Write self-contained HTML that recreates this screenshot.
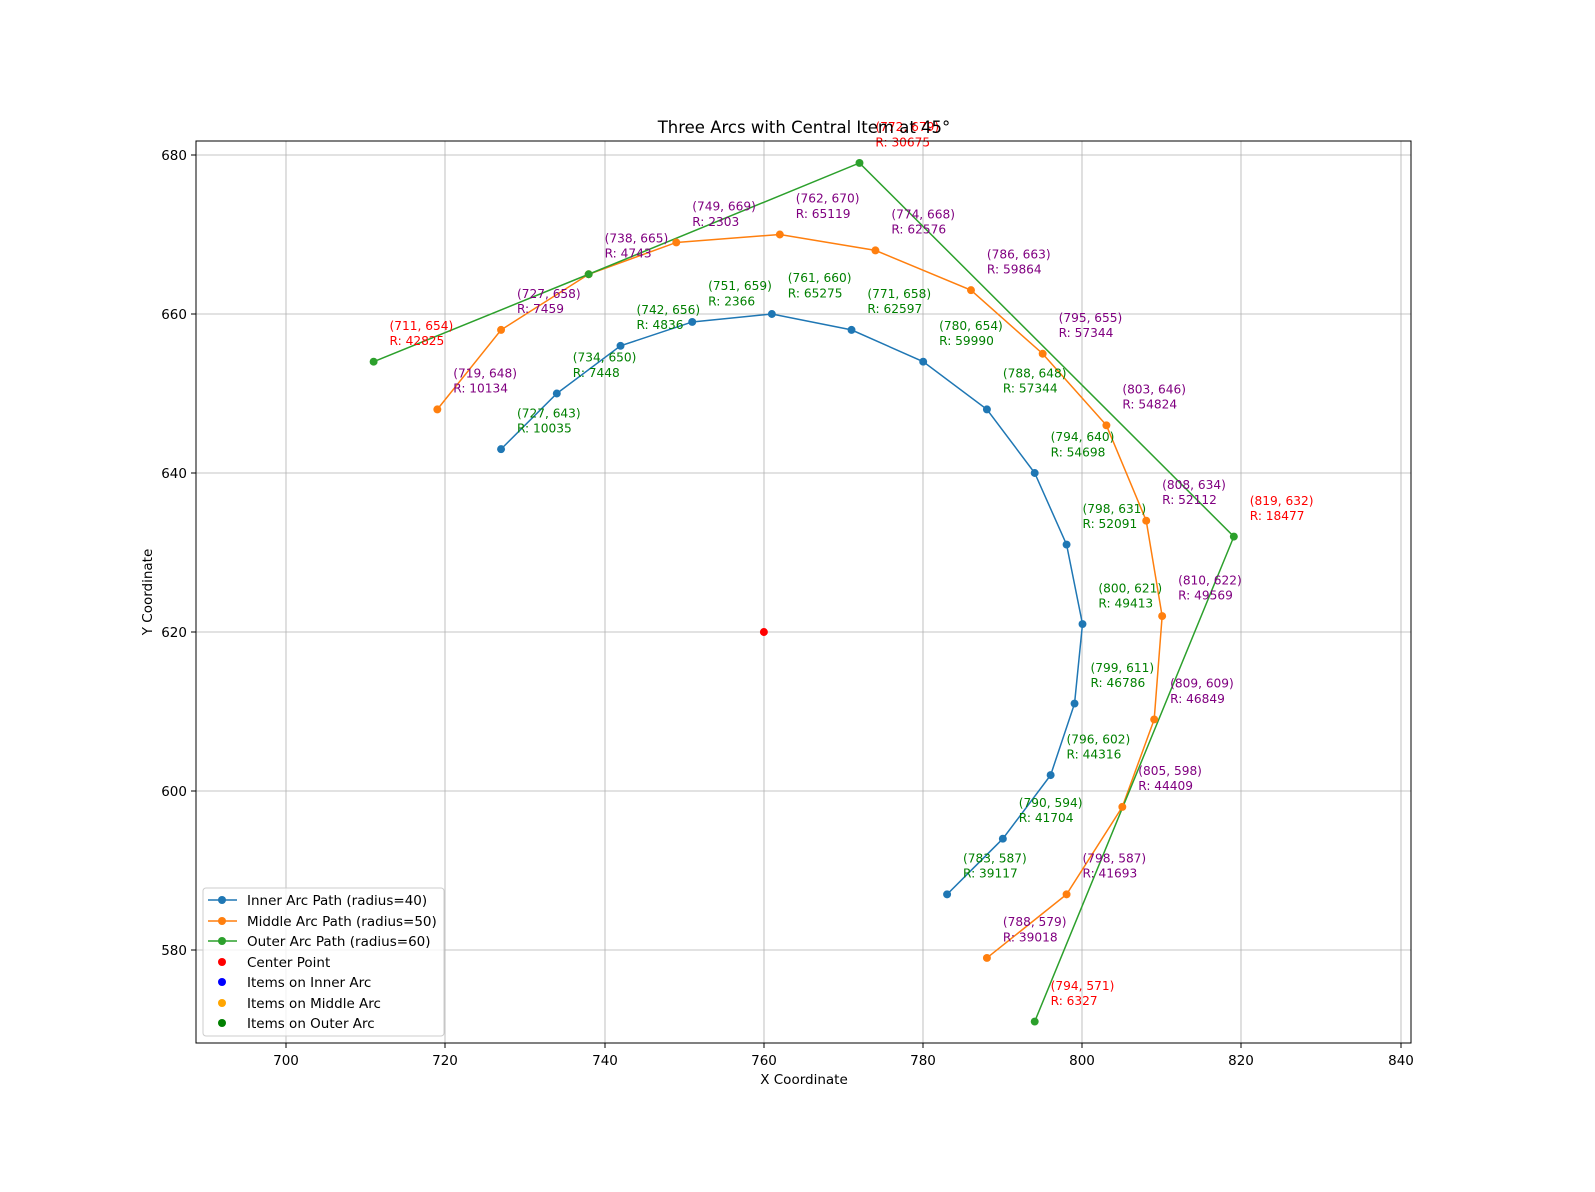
<!DOCTYPE html>
<html><head><meta charset="utf-8"><style>
html,body{margin:0;padding:0;background:#fff;overflow:hidden;width:1595px;height:1192px}
svg{display:block;font-family:"DejaVu Sans","Liberation Sans",sans-serif}
</style></head><body>
<svg width="1595" height="1192" viewBox="0 0 1595 1192" xmlns="http://www.w3.org/2000/svg">
<rect width="1595" height="1192" fill="#fff"/>
<g stroke="#b0b0b0" stroke-width="0.8">
<line x1="286" y1="141" x2="286" y2="1043"/><line x1="445" y1="141" x2="445" y2="1043"/><line x1="605" y1="141" x2="605" y2="1043"/><line x1="764" y1="141" x2="764" y2="1043"/><line x1="923" y1="141" x2="923" y2="1043"/><line x1="1082" y1="141" x2="1082" y2="1043"/><line x1="1241" y1="141" x2="1241" y2="1043"/><line x1="1401" y1="141" x2="1401" y2="1043"/>
<line x1="196" y1="155" x2="1411" y2="155"/><line x1="196" y1="314" x2="1411" y2="314"/><line x1="196" y1="473" x2="1411" y2="473"/><line x1="196" y1="632" x2="1411" y2="632"/><line x1="196" y1="791" x2="1411" y2="791"/><line x1="196" y1="950" x2="1411" y2="950"/>
</g>
<g transform="translate(-5289.5,5561) scale(7.965,7.95)">
<polyline fill="none" stroke="#1f77b4" stroke-width="1.5" vector-effect="non-scaling-stroke" points="727,-643 734,-650 742,-656 751,-659 761,-660 771,-658 780,-654 788,-648 794,-640 798,-631 800,-621 799,-611 796,-602 790,-594 783,-587"/>
<polyline fill="none" stroke="#ff7f0e" stroke-width="1.5" vector-effect="non-scaling-stroke" points="719,-648 727,-658 738,-665 749,-669 762,-670 774,-668 786,-663 795,-655 803,-646 808,-634 810,-622 809,-609 805,-598 798,-587 788,-579"/>
<polyline fill="none" stroke="#2ca02c" stroke-width="1.5" vector-effect="non-scaling-stroke" points="711,-654 738,-665 772,-679 819,-632 794,-571"/>
<g fill="#1f77b4"><circle cx="727" cy="-643" r="0.5"/><circle cx="734" cy="-650" r="0.5"/><circle cx="742" cy="-656" r="0.5"/><circle cx="751" cy="-659" r="0.5"/><circle cx="761" cy="-660" r="0.5"/><circle cx="771" cy="-658" r="0.5"/><circle cx="780" cy="-654" r="0.5"/><circle cx="788" cy="-648" r="0.5"/><circle cx="794" cy="-640" r="0.5"/><circle cx="798" cy="-631" r="0.5"/><circle cx="800" cy="-621" r="0.5"/><circle cx="799" cy="-611" r="0.5"/><circle cx="796" cy="-602" r="0.5"/><circle cx="790" cy="-594" r="0.5"/><circle cx="783" cy="-587" r="0.5"/></g>
<g fill="#ff7f0e"><circle cx="719" cy="-648" r="0.5"/><circle cx="727" cy="-658" r="0.5"/><circle cx="738" cy="-665" r="0.5"/><circle cx="749" cy="-669" r="0.5"/><circle cx="762" cy="-670" r="0.5"/><circle cx="774" cy="-668" r="0.5"/><circle cx="786" cy="-663" r="0.5"/><circle cx="795" cy="-655" r="0.5"/><circle cx="803" cy="-646" r="0.5"/><circle cx="808" cy="-634" r="0.5"/><circle cx="810" cy="-622" r="0.5"/><circle cx="809" cy="-609" r="0.5"/><circle cx="805" cy="-598" r="0.5"/><circle cx="798" cy="-587" r="0.5"/><circle cx="788" cy="-579" r="0.5"/></g>
<g fill="#2ca02c"><circle cx="711" cy="-654" r="0.5"/><circle cx="738" cy="-665" r="0.5"/><circle cx="772" cy="-679" r="0.5"/><circle cx="819" cy="-632" r="0.5"/><circle cx="794" cy="-571" r="0.5"/></g>
<circle cx="760" cy="-620" r="0.5" fill="red"/>
<g font-size="1.53" fill="green">
<text x="729" y="-647">(727, 643)</text><text x="729" y="-645.1">R: 10035</text>
<text x="736" y="-654">(734, 650)</text><text x="736" y="-652.1">R: 7448</text>
<text x="744" y="-660">(742, 656)</text><text x="744" y="-658.1">R: 4836</text>
<text x="753" y="-663">(751, 659)</text><text x="753" y="-661.1">R: 2366</text>
<text x="763" y="-664">(761, 660)</text><text x="763" y="-662.1">R: 65275</text>
<text x="773" y="-662">(771, 658)</text><text x="773" y="-660.1">R: 62597</text>
<text x="782" y="-658">(780, 654)</text><text x="782" y="-656.1">R: 59990</text>
<text x="790" y="-652">(788, 648)</text><text x="790" y="-650.1">R: 57344</text>
<text x="796" y="-644">(794, 640)</text><text x="796" y="-642.1">R: 54698</text>
<text x="800" y="-635">(798, 631)</text><text x="800" y="-633.1">R: 52091</text>
<text x="802" y="-625">(800, 621)</text><text x="802" y="-623.1">R: 49413</text>
<text x="801" y="-615">(799, 611)</text><text x="801" y="-613.1">R: 46786</text>
<text x="798" y="-606">(796, 602)</text><text x="798" y="-604.1">R: 44316</text>
<text x="792" y="-598">(790, 594)</text><text x="792" y="-596.1">R: 41704</text>
<text x="785" y="-591">(783, 587)</text><text x="785" y="-589.1">R: 39117</text>
</g>
<g font-size="1.53" fill="purple">
<text x="721" y="-652">(719, 648)</text><text x="721" y="-650.1">R: 10134</text>
<text x="729" y="-662">(727, 658)</text><text x="729" y="-660.1">R: 7459</text>
<text x="740" y="-669">(738, 665)</text><text x="740" y="-667.1">R: 4743</text>
<text x="751" y="-673">(749, 669)</text><text x="751" y="-671.1">R: 2303</text>
<text x="764" y="-674">(762, 670)</text><text x="764" y="-672.1">R: 65119</text>
<text x="776" y="-672">(774, 668)</text><text x="776" y="-670.1">R: 62576</text>
<text x="788" y="-667">(786, 663)</text><text x="788" y="-665.1">R: 59864</text>
<text x="797" y="-659">(795, 655)</text><text x="797" y="-657.1">R: 57344</text>
<text x="805" y="-650">(803, 646)</text><text x="805" y="-648.1">R: 54824</text>
<text x="810" y="-638">(808, 634)</text><text x="810" y="-636.1">R: 52112</text>
<text x="812" y="-626">(810, 622)</text><text x="812" y="-624.1">R: 49569</text>
<text x="811" y="-613">(809, 609)</text><text x="811" y="-611.1">R: 46849</text>
<text x="807" y="-602">(805, 598)</text><text x="807" y="-600.1">R: 44409</text>
<text x="800" y="-591">(798, 587)</text><text x="800" y="-589.1">R: 41693</text>
<text x="790" y="-583">(788, 579)</text><text x="790" y="-581.1">R: 39018</text>
</g>
<g font-size="1.53" fill="red">
<text x="713" y="-658">(711, 654)</text><text x="713" y="-656.1">R: 42825</text>
<text x="774" y="-683">(772, 679)</text><text x="774" y="-681.1">R: 30675</text>
<text x="821" y="-636">(819, 632)</text><text x="821" y="-634.1">R: 18477</text>
<text x="796" y="-575">(794, 571)</text><text x="796" y="-573.1">R: 6327</text>
</g>
</g>
<rect x="196" y="141" width="1215" height="902" fill="none" stroke="#000" stroke-width="1"/>
<g stroke="#000" stroke-width="1">
<line x1="286" y1="1043" x2="286" y2="1048"/><line x1="445" y1="1043" x2="445" y2="1048"/><line x1="605" y1="1043" x2="605" y2="1048"/><line x1="764" y1="1043" x2="764" y2="1048"/><line x1="923" y1="1043" x2="923" y2="1048"/><line x1="1082" y1="1043" x2="1082" y2="1048"/><line x1="1241" y1="1043" x2="1241" y2="1048"/><line x1="1401" y1="1043" x2="1401" y2="1048"/>
<line x1="191" y1="155" x2="196" y2="155"/><line x1="191" y1="314" x2="196" y2="314"/><line x1="191" y1="473" x2="196" y2="473"/><line x1="191" y1="632" x2="196" y2="632"/><line x1="191" y1="791" x2="196" y2="791"/><line x1="191" y1="950" x2="196" y2="950"/>
</g>
<g font-size="13.5" text-anchor="middle">
<text x="286" y="1065">700</text><text x="445" y="1065">720</text><text x="605" y="1065">740</text><text x="764" y="1065">760</text><text x="923" y="1065">780</text><text x="1082" y="1065">800</text><text x="1241" y="1065">820</text><text x="1401" y="1065">840</text>
</g>
<g font-size="13.5" text-anchor="end">
<text x="187" y="160">680</text><text x="187" y="319">660</text><text x="187" y="478">640</text><text x="187" y="637">620</text><text x="187" y="796">600</text><text x="187" y="955">580</text>
</g>
<text x="804" y="1084" font-size="13.5" text-anchor="middle">X Coordinate</text>
<text transform="translate(152,592) rotate(-90)" font-size="13.5" text-anchor="middle">Y Coordinate</text>
<text x="804" y="133" font-size="16.5" text-anchor="middle">Three Arcs with Central Item at 45°</text>
<rect x="203" y="888" width="241" height="148" rx="3" fill="#fff" fill-opacity="0.8" stroke="#ccc"/>
<g font-size="13.5">
<line x1="208" y1="900" x2="237" y2="900" stroke="#1f77b4" stroke-width="1.5"/><circle cx="222" cy="900" r="4" fill="#1f77b4"/><text x="247" y="905">Inner Arc Path (radius=40)</text>
<line x1="208" y1="921" x2="237" y2="921" stroke="#ff7f0e" stroke-width="1.5"/><circle cx="222" cy="921" r="4" fill="#ff7f0e"/><text x="247" y="926">Middle Arc Path (radius=50)</text>
<line x1="208" y1="941" x2="237" y2="941" stroke="#2ca02c" stroke-width="1.5"/><circle cx="222" cy="941" r="4" fill="#2ca02c"/><text x="247" y="946">Outer Arc Path (radius=60)</text>
<circle cx="222" cy="962" r="4" fill="red"/><text x="247" y="967">Center Point</text>
<circle cx="222" cy="982" r="4" fill="blue"/><text x="247" y="987">Items on Inner Arc</text>
<circle cx="222" cy="1003" r="4" fill="orange"/><text x="247" y="1008">Items on Middle Arc</text>
<circle cx="222" cy="1023" r="4" fill="green"/><text x="247" y="1028">Items on Outer Arc</text>
</g>
</svg>
</body></html>
